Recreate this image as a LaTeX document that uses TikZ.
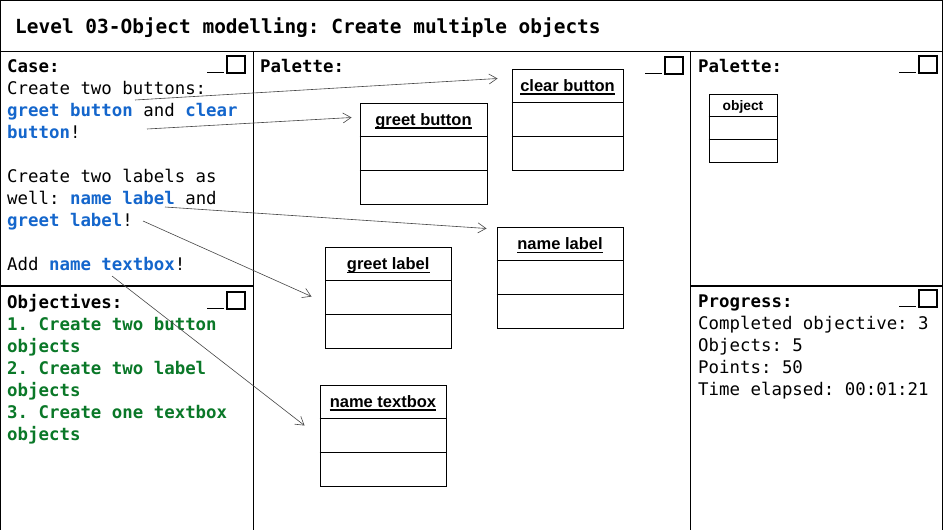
\documentclass[tikz,border=0pt]{standalone}
\usepackage{fontspec}
\setmainfont{Liberation Sans}
\setmonofont{DejaVu Sans Mono}
\usetikzlibrary{arrows.meta,calc}
\definecolor{caseblue}{RGB}{20,102,204}
\definecolor{objgreen}{RGB}{10,120,40}
\definecolor{arrowgray}{RGB}{70,70,70}
\tikzset{
  frame/.style={line width=1.3pt, black},
  txt/.style={anchor=base west, inner sep=0pt, font=\ttfamily\fontsize{17.4}{22}\selectfont},
  hdr/.style={txt, font=\ttfamily\bfseries\fontsize{17.4}{22}\selectfont},
  ttl/.style={anchor=base west, inner sep=0pt, font=\ttfamily\bfseries\fontsize{19.45}{24}\selectfont},
  classbox/.style={draw, line width=1pt, inner sep=0pt, rectangle},
  classlbl/.style={anchor=base, inner sep=0pt, font=\bfseries\fontsize{16.5}{18}\selectfont},
  link/.style={draw=arrowgray, line width=0.6pt, -{Straight Barb[length=8pt,width=10pt]}},
  winicon/.pic={
    \draw[line width=1.8pt] (-20,-0.5) -- (-3,-0.5);
    \draw[line width=1.3pt] (0,0) rectangle (18,-17);
  }
}
\newcommand\umlobj[6]{%
  \node[classbox, minimum width=#4pt, minimum height=#5pt] (#1) at (#2,#3) {};
  \draw[line width=1pt] ($(#1.north west)!1/3!(#1.south west)$) -- ($(#1.north east)!1/3!(#1.south east)$);
  \draw[line width=1pt] ($(#1.north west)!2/3!(#1.south west)$) -- ($(#1.north east)!2/3!(#1.south east)$);
  \node[classlbl] (#1-lbl) at ($(#1.north)!1/6!(#1.south)+(0,6)$) {#6};
  \draw[line width=1.4pt] ([yshift=-2.5pt]#1-lbl.base west) -- ([yshift=-2.5pt]#1-lbl.base east);
}
\begin{document}
\begin{tikzpicture}[x=1pt,y=-1pt]
\useasboundingbox (0,0) rectangle (943,530);
\fill[white] (0,0) rectangle (943,530);

% frame
\draw[frame] (0.7,530) -- (0.7,0.7) -- (942.3,0.7) -- (942.3,530);
\draw[frame] (0,51.5) -- (943,51.5);
\draw[frame] (253.3,51.5) -- (253.3,530);
\draw[frame] (690.3,51.5) -- (690.3,530);
\draw[frame] (0,286) -- (253.3,286);
\draw[frame] (690.3,286) -- (943,286);

% title
\node[ttl] (title) at (15,33.5) {Level 03-Object modelling: Create multiple objects};

% window icons
\pic at (227,73) {winicon};
\pic at (665,74) {winicon};
\pic at (919,73) {winicon};
\pic at (227,309) {winicon};
\pic at (919,307) {winicon};

% case panel
\node[hdr] (case) at (7,72.5) {Case:};
\node[txt] (c1) at (7,94.5) {Create two buttons:};
\node[txt] (c2) at (7,116.5) {{\bfseries\color{caseblue}greet button} and {\bfseries\color{caseblue}clear}};
\node[txt] (c3) at (7,138.5) {{\bfseries\color{caseblue}button}!};
\node[txt] (c4) at (7,182.5) {Create two labels as};
\node[txt] (c5) at (7,204.5) {well: {\bfseries\color{caseblue}name label} and};
\node[txt] (c6) at (7,226.5) {{\bfseries\color{caseblue}greet label}!};
\node[txt] (c7) at (7,270.5) {Add {\bfseries\color{caseblue}name textbox}!};

% objectives panel
\node[hdr] (obj) at (7,308) {Objectives:};
\node[hdr, text=objgreen] (o1) at (7,330) {1. Create two button};
\node[hdr, text=objgreen] (o2) at (7,352) {objects};
\node[hdr, text=objgreen] (o3) at (7,374) {2. Create two label};
\node[hdr, text=objgreen] (o4) at (7,396) {objects};
\node[hdr, text=objgreen] (o5) at (7,418) {3. Create one textbox};
\node[hdr, text=objgreen] (o6) at (7,440) {objects};

% palette headers
\node[hdr] (pal) at (260,72.5) {Palette:};
\node[hdr] (pal2) at (698,72.5) {Palette:};

% progress panel
\node[hdr] (prog) at (698,307.5) {Progress:};
\node[txt] (p1) at (698,329.5) {Completed objective: 3};
\node[txt] (p2) at (698,351.5) {Objects: 5};
\node[txt] (p3) at (698,373.5) {Points: 50};
\node[txt] (p4) at (698,395.5) {Time elapsed: 00:01:21};

% object boxes
\umlobj{clear}{567.5}{119.5}{111}{101}{clear button}
\umlobj{greetbtn}{423.5}{153.5}{127}{101}{greet button}
\umlobj{namelbl}{560}{277.75}{126}{100.5}{name label}
\umlobj{greetlbl}{388.25}{297.75}{125.5}{100.5}{greet label}
\umlobj{nametb}{383}{435.5}{126}{101}{name textbox}

% palette object template
\node[classbox, minimum width=68pt, minimum height=68pt] (objtpl) at (743,128) {};
\draw[line width=1pt] ($(objtpl.north west)!23/68!(objtpl.south west)$) -- ($(objtpl.north east)!23/68!(objtpl.south east)$);
\draw[line width=1pt] ($(objtpl.north west)!45/68!(objtpl.south west)$) -- ($(objtpl.north east)!45/68!(objtpl.south east)$);
\node[anchor=base, inner sep=0pt, font=\bfseries\fontsize{13.8}{16}\selectfont] (objtpl-lbl) at (743,110.8) {object};

% connectors
\coordinate (s1) at (135,100);
\coordinate (s2) at (147,129);
\coordinate (s3) at (165,207);
\coordinate (s4) at (143,221);
\coordinate (s5) at (112,276);
\draw[link] (s1) -- ([shift={(-14,10)}]clear.north west);
\draw[link] (s2) -- ([shift={(-8,15)}]greetbtn.north west);
\draw[link] (s3) -- ([shift={(-10,1.5)}]namelbl.north west);
\draw[link] (s4) -- ([shift={(-13.5,49.5)}]greetlbl.north west);
\draw[link] (s5) -- ([shift={(-15,41)}]nametb.north west);
\end{tikzpicture}
\end{document}
